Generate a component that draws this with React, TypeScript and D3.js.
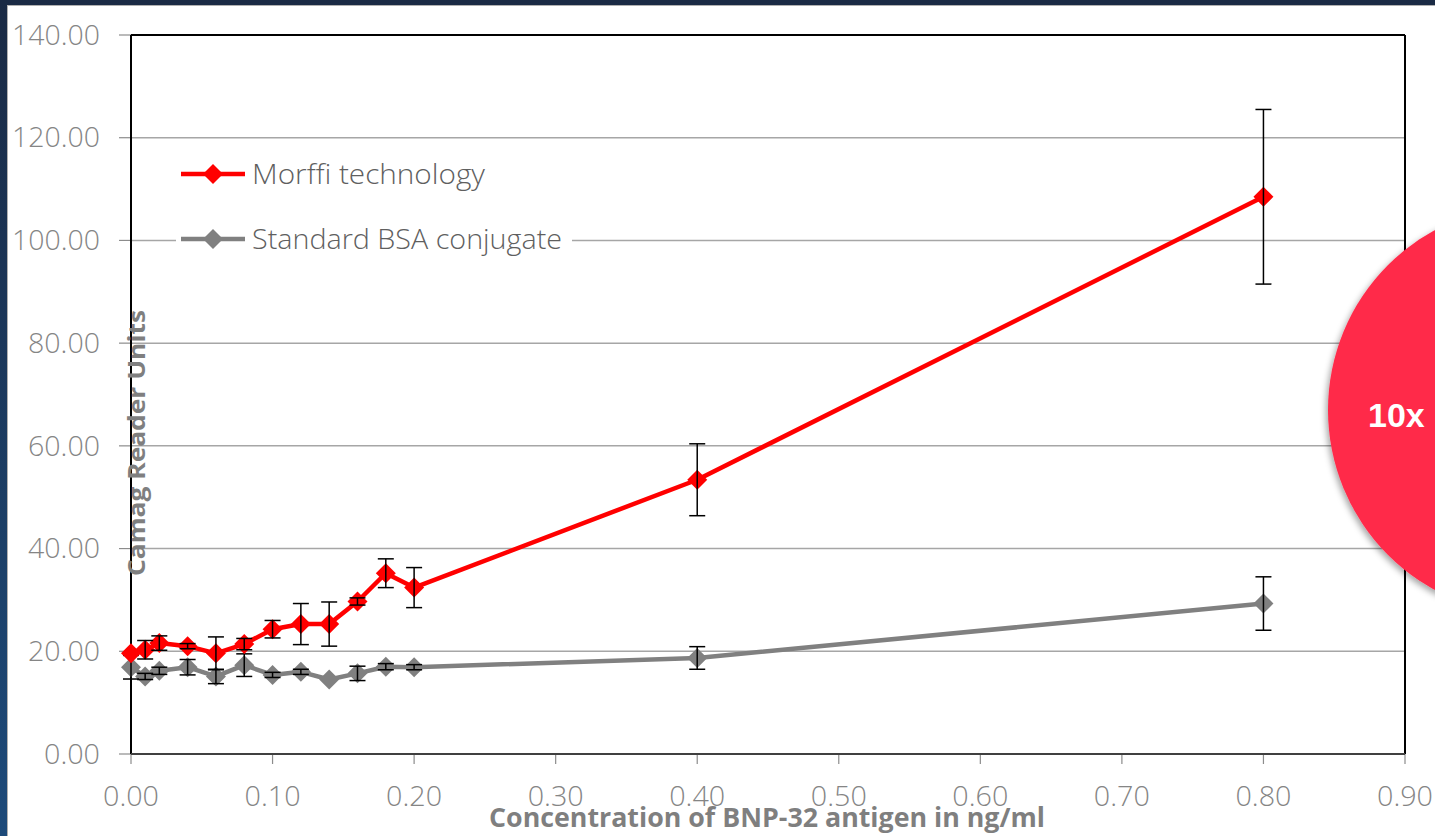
import React from "react";
import * as d3 from "d3";

const concentrations = [0, 0.01, 0.02, 0.04, 0.06, 0.08, 0.1, 0.12, 0.14, 0.16, 0.18, 0.2, 0.4, 0.8];
const morffiValues = [19.6, 20.3, 21.6, 21.0, 19.6, 21.4, 24.3, 25.3, 25.3, 29.7, 35.2, 32.4, 53.4, 108.5];
const morffiErrors = [0, 1.8, 1.4, 0.5, 3.2, 1.1, 1.7, 4.0, 4.3, 0.7, 2.8, 3.9, 7.0, 17.0];
const bsaValues = [16.9, 15.1, 16.2, 16.9, 15.1, 17.3, 15.4, 16.0, 14.5, 15.7, 17.0, 16.9, 18.7, 29.3];
const bsaErrors = [2.3, 0.6, 0.7, 1.5, 1.4, 2.2, 0.5, 0.5, 0, 1.4, 0.6, 0.5, 2.2, 5.2];
const yTicks = [0, 20, 40, 60, 80, 100, 120, 140];
const xTicks = [0, 0.1, 0.2, 0.3, 0.4, 0.5, 0.6, 0.7, 0.8, 0.9];
const seriesNames = ["Morffi technology", "Standard BSA conjugate"];
const seriesColors = ["#ff0000", "#808080"];

const W = 1435;
const H = 836;
const left = 131, right = 1405, top = 35, bottom = 754;

export default function App() {
  const x = d3.scaleLinear().domain([0, 0.9]).range([left, right]);
  const y = d3.scaleLinear().domain([0, 140]).range([bottom, top]);
  const line = d3.line<[number, number]>().x((d) => x(d[0])).y((d) => y(d[1]));

  const series = [
    { name: seriesNames[0], color: seriesColors[0], values: morffiValues, errors: morffiErrors },
    { name: seriesNames[1], color: seriesColors[1], values: bsaValues, errors: bsaErrors },
  ];

  const diamond = (cx: number, cy: number, r: number) =>
    `M${cx},${cy - r}L${cx + r},${cy}L${cx},${cy + r}L${cx - r},${cy}Z`;

  const tickFont = "'Open Sans', 'Noto Sans', sans-serif";
  const labelLen = (s: string) => (s.length - 1) * 16 + 8;

  return (
    <svg width={W} height={H} style={{ position: "absolute", left: 0, top: 0 }}>
      <defs>
        <filter id="sh" x="-20%" y="-20%" width="140%" height="140%">
          <feDropShadow dx="-2" dy="3" stdDeviation="3" floodColor="#000" floodOpacity="0.35" />
        </filter>
        <linearGradient id="bg" x1="0" y1="0" x2="0" y2="1">
          <stop offset="0" stopColor="#1a2a44" />
          <stop offset="1" stopColor="#1d4a7a" />
        </linearGradient>
      </defs>
      <rect x={0} y={0} width={W} height={H} fill="url(#bg)" />
      <rect x={7.5} y={5.5} width={W} height={H} fill="#ffffff" stroke="#b0b0b0" strokeWidth={1} />

      {/* gridlines */}
      {yTicks.slice(1, -1).map((t) => (
        <line key={t} x1={left} x2={right} y1={y(t)} y2={y(t)} stroke="#a6a6a6" strokeWidth={1.5} />
      ))}
      {/* y ticks */}
      {yTicks.map((t) => {
        const s = t.toFixed(2);
        return (
          <g key={t}>
            <line x1={left - 12} x2={left} y1={y(t)} y2={y(t)} stroke="#8c8c8c" strokeWidth={1.2} />
            <text x={100} y={y(t)} dy="0.36em" textAnchor="end" fontFamily={tickFont} fontWeight={300} fontSize={27} fill="#858585" textLength={labelLen(s)} lengthAdjust="spacingAndGlyphs">
              {s}
            </text>
          </g>
        );
      })}
      {/* x ticks */}
      {xTicks.map((t) => {
        const s = t.toFixed(2);
        return (
          <g key={t}>
            <line x1={x(t)} x2={x(t)} y1={bottom} y2={bottom + 10} stroke="#8c8c8c" strokeWidth={1.2} />
            <text x={x(t)} y={806} textAnchor="middle" fontFamily={tickFont} fontWeight={300} fontSize={27} fill="#858585" textLength={labelLen(s)} lengthAdjust="spacingAndGlyphs">
              {s}
            </text>
          </g>
        );
      })}

      {/* plot border */}
      <line x1={left} x2={right} y1={top} y2={top} stroke="#000" strokeWidth={2} />
      <line x1={right} x2={right} y1={top} y2={bottom} stroke="#000" strokeWidth={2} />
      <line x1={left} x2={left} y1={top} y2={bottom} stroke="#000" strokeWidth={2} />
      <line x1={left} x2={right} y1={bottom} y2={bottom} stroke="#404040" strokeWidth={2} />

      {/* legend */}
      <rect x={176} y={150} width={396} height={112} fill="#ffffff" />
      {series.map((s, i) => {
        const ly = 174 + i * 65;
        return (
          <g key={s.name}>
            <line x1={181} x2={245} y1={ly} y2={ly} stroke={s.color} strokeWidth={4.5} />
            <path d={diamond(213, ly, 10)} fill={s.color} />
            <text x={252} y={ly} dy="0.36em" fontFamily={tickFont} fontWeight={300} fontSize={28} fill="#5f5f5f" textLength={i === 0 ? 233 : 310} lengthAdjust="spacingAndGlyphs">
              {s.name}
            </text>
          </g>
        );
      })}

      {/* series */}
      {series
        .slice()
        .reverse()
        .map((s) => {
          const pts: [number, number][] = concentrations.map((c, i) => [c, s.values[i]]);
          return (
            <g key={s.name}>
              <path d={line(pts) || ""} fill="none" stroke={s.color} strokeWidth={4.5} strokeLinejoin="round" />
              {pts.map((p, i) => (
                <path key={i} d={diamond(x(p[0]), y(p[1]), 10)} fill={s.color} />
              ))}
              {pts.map((p, i) =>
                s.errors[i] > 0 ? (
                  <g key={"e" + i} stroke="#000" strokeWidth={1.5}>
                    <line x1={x(p[0])} x2={x(p[0])} y1={y(p[1] - s.errors[i])} y2={y(p[1] + s.errors[i])} />
                    <line x1={x(p[0]) - 8} x2={x(p[0]) + 8} y1={y(p[1] + s.errors[i])} y2={y(p[1] + s.errors[i])} />
                    <line x1={x(p[0]) - 8} x2={x(p[0]) + 8} y1={y(p[1] - s.errors[i])} y2={y(p[1] - s.errors[i])} />
                  </g>
                ) : null
              )}
            </g>
          );
        })}

      {/* axis titles */}
      <text
        transform={`translate(145, 443) rotate(-90)`}
        textAnchor="middle"
        fontFamily="'Liberation Sans Narrow', 'Open Sans', sans-serif"
        fontWeight="bold"
        fontSize={24}
        fill="#7f7f7f"
        textLength={266}
        lengthAdjust="spacingAndGlyphs"
      >
        Camag Reader Units
      </text>
      <text
        x={767}
        y={827}
        textAnchor="middle"
        fontFamily="'Liberation Sans Narrow', 'Open Sans', sans-serif"
        fontWeight="bold"
        fontSize={26}
        fill="#7f7f7f"
        textLength={556}
        lengthAdjust="spacingAndGlyphs"
      >
        Concentration of BNP-32 antigen in ng/ml
      </text>

      {/* overlay circle */}
      <circle cx={1533} cy={410} r={205} fill="#ff2a4a" filter="url(#sh)" />
      <text x={1368} y={427} fontFamily="Arial, 'Liberation Sans', sans-serif" fontWeight="bold" fontSize={34} fill="#ffffff">
        10x
      </text>
    </svg>
  );
}
